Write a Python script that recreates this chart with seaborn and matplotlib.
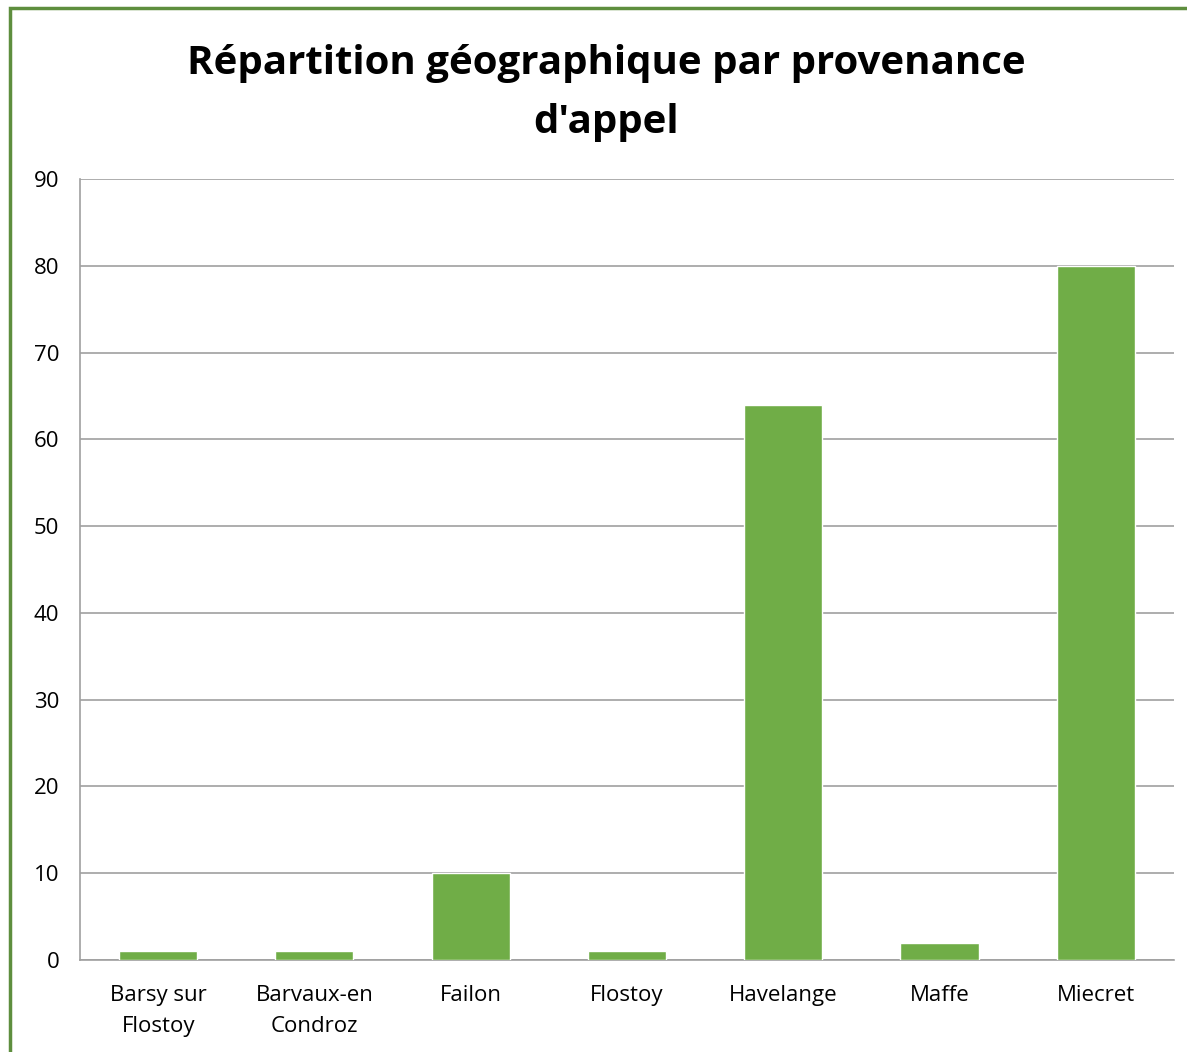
import matplotlib
matplotlib.use("Agg")
import matplotlib.pyplot as plt
import seaborn as sns
import pandas as pd
from matplotlib.patches import Rectangle

# données
communes = ["Barsy sur\nFlostoy", "Barvaux-en\nCondroz", "Failon", "Flostoy",
            "Havelange", "Maffe", "Miecret"]
appels = [1, 1, 10, 1, 64, 2, 80]
y_ticks = [0, 10, 20, 30, 40, 50, 60, 70, 80, 90]

TITRE = "Répartition géographique par provenance\nd'appel"
VERT = "#70AD47"
GRIS = "#A0A0A0"

sns.set_theme(style="white")
plt.rcParams["font.family"] = ["Open Sans", "DejaVu Sans"]
plt.rcParams["text.color"] = "black"

df = pd.DataFrame({"Commune": communes, "Appels": appels})

fig = plt.figure(figsize=(11.87, 10.52), dpi=100)
ax = fig.add_axes([0.0674, 0.0875, 0.9216, 0.7423])

sns.barplot(data=df, x="Commune", y="Appels", color=VERT, width=0.5,
            saturation=1, ax=ax, zorder=3)

ax.set_ylim(0, 90)
ax.set_xlim(-0.5, len(communes) - 0.5)
ax.set_yticks(y_ticks)
ax.yaxis.grid(True, color=GRIS, linewidth=1.2, zorder=0)
ax.set_axisbelow(True)

# traits de graduation entre les catégories
ax.set_xticks([i - 0.5 for i in range(len(communes) + 1)])
ax.set_xticklabels([])
ax.set_xticks(range(len(communes)), minor=True)
ax.set_xticklabels(communes, minor=True, fontsize=16, linespacing=1.6)
ax.tick_params(axis="x", which="minor", length=0, pad=18, labelcolor="black")
ax.tick_params(axis="x", which="major", length=6, width=1.2, color=GRIS)
ax.tick_params(axis="y", length=6, width=1.2, color=GRIS, labelsize=16,
               pad=9, labelcolor="black")

for s in ["top", "right"]:
    ax.spines[s].set_visible(False)
for s in ["left", "bottom"]:
    ax.spines[s].set_color(GRIS)
    ax.spines[s].set_linewidth(1.2)

ax.set_xlabel("")
ax.set_ylabel("")

fig.text(0.511, 0.9115, TITRE, ha="center", va="center", fontsize=29,
         fontweight="bold", linespacing=1.68, color="black")

# cadre vert (coupé à droite et en bas)
fig.patches.append(Rectangle((10 / 1187, -0.1), 1.2, 1 - 8 / 1052 + 0.1,
                             transform=fig.transFigure, fill=False,
                             edgecolor="#5E8E3E", linewidth=2.5))

fig.savefig("out.png", dpi=100)
